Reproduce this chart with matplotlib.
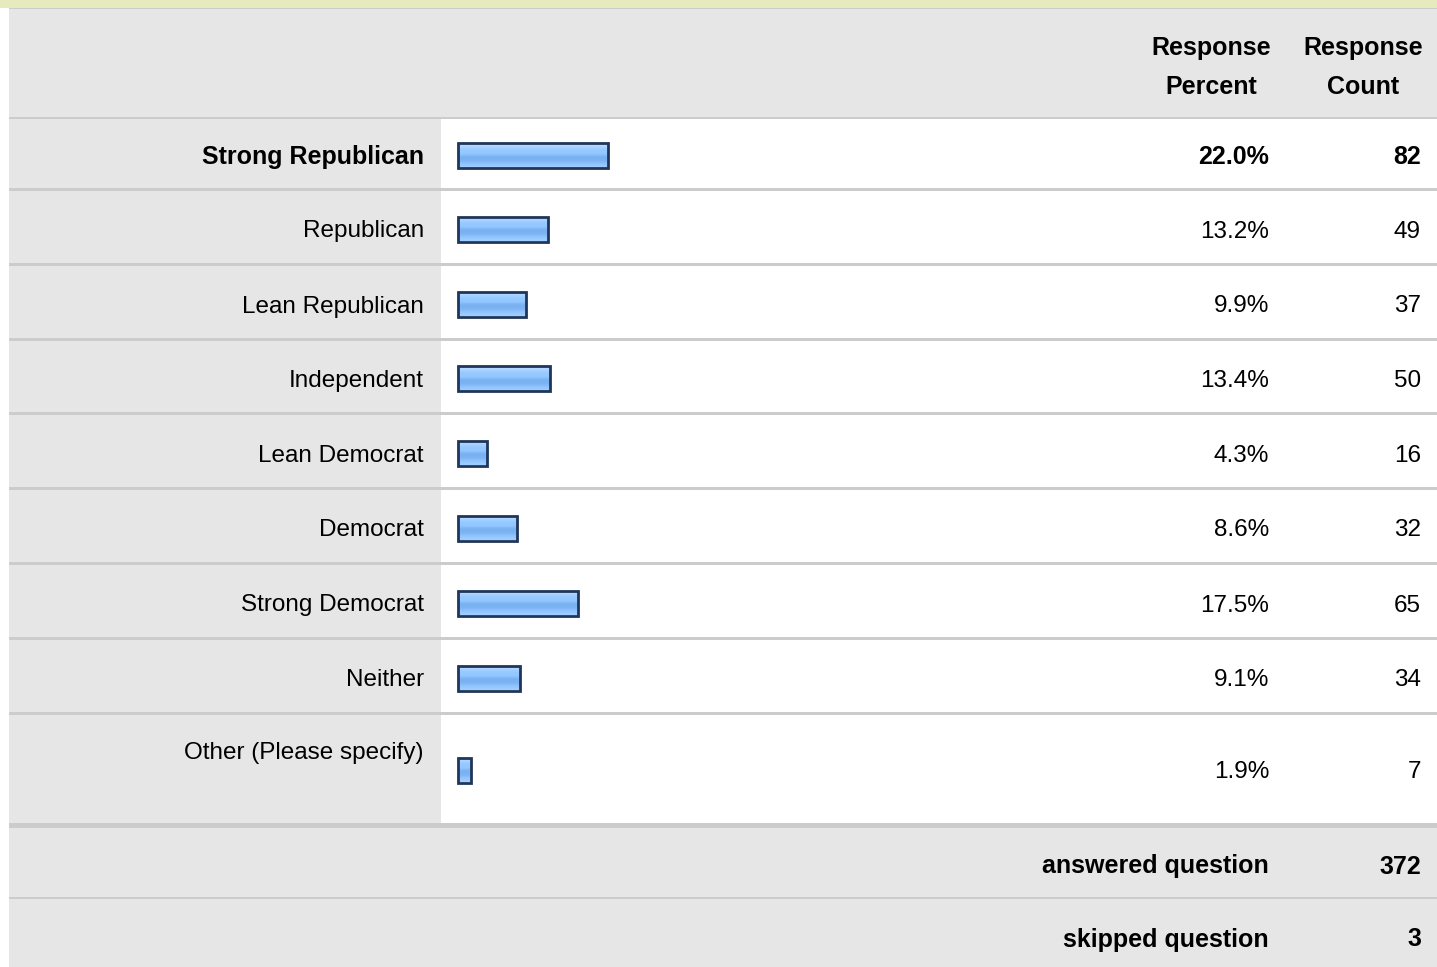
import numpy as np
import matplotlib
matplotlib.use("Agg")
import matplotlib.pyplot as plt
from matplotlib.patches import Rectangle
from matplotlib.colors import LinearSegmentedColormap

plt.rcParams['font.family'] = ['Liberation Sans', 'DejaVu Sans']

# data
answers = ["Strong Republican", "Republican", "Lean Republican", "Independent",
           "Lean Democrat", "Democrat", "Strong Democrat", "Neither",
           "Other (Please specify)"]
percent = [22.0, 13.2, 9.9, 13.4, 4.3, 8.6, 17.5, 9.1, 1.9]
counts = [82, 49, 37, 50, 16, 32, 65, 34, 7]
answered = 372
skipped = 3

# layout in pixels
W, H = 1437, 967
row_top = [119, 191, 266, 341, 415, 490, 565, 640, 715]
row_bot = [188, 263, 338, 412, 487, 562, 637, 712, 823]
bar_left = 458
px_per_pct = 6.84
FS = 17.5
FSB = 18
GRAY = "#e6e6e6"
LINE = "#cccccc"

fig = plt.figure(figsize=(W / 100, H / 100), dpi=100)
ax = fig.add_axes([0, 0, 1, 1])
ax.set_xlim(0, W)
ax.set_ylim(H, 0)
ax.axis("off")

def rect(x0, y0, x1, y1, color, z=0):
    ax.add_patch(Rectangle((x0, y0), x1 - x0, y1 - y0, facecolor=color,
                           edgecolor="none", zorder=z))

# backgrounds
rect(0, 0, W, 8, "#e5ebbf")
rect(9, 8, W, 9, LINE)
rect(9, 9, W, 117, GRAY)
rect(9, 117, W, 119, LINE)
for t, b in zip(row_top, row_bot):
    rect(9, t, 441, b, GRAY)
    rect(441, t, W, b, "white")
for b in row_bot[:-1]:
    rect(9, b, W, b + 3, LINE)
rect(9, 823, W, 828, LINE)
rect(9, 828, W, 897, GRAY)
rect(9, 897, W, 899, LINE)
rect(9, 899, W, H, GRAY)

# header
for x, word in [(1211, "Percent"), (1363, "Count")]:
    ax.text(x, 55.5, "Response", ha="center", va="baseline", fontsize=FSB,
            fontweight="bold")
    ax.text(x, 93.5, word, ha="center", va="baseline", fontsize=FSB,
            fontweight="bold")

# bars
mids = [(t + b) / 2 for t, b in zip(row_top, row_bot)]
centers = [m + 2 for m in mids]
centers[-1] = mids[-1] + 1
widths = [p * px_per_pct for p in percent]
bars = ax.barh(centers, widths, left=bar_left, height=25, facecolor="none",
               edgecolor="#1f3559", linewidth=2, zorder=3)

grad = LinearSegmentedColormap.from_list(
    "bar", ["#c9e4ff", "#a9d3ff", "#96c9ff", "#92c6ff", "#78b0f0",
            "#7db4f4", "#92c6ff", "#a0ceff"])
g = np.linspace(0, 1, 64).reshape(-1, 1)
for bar in bars:
    x0, y0 = bar.get_x(), bar.get_y()
    im = ax.imshow(g, cmap=grad, aspect="auto", interpolation="nearest",
                   extent=(x0, x0 + bar.get_width(), y0 + bar.get_height(), y0),
                   zorder=2)
    im.set_clip_path(bar)
ax.set_xlim(0, W)
ax.set_ylim(H, 0)

# row texts
for i, (lab, p, c) in enumerate(zip(answers, percent, counts)):
    bold = p == max(percent)
    wt = "bold" if bold else "normal"
    fs = FSB if bold else FS
    ly = centers[i] + 8.5
    if i == len(answers) - 1:
        ly = row_top[i] + 43.5
    ax.text(424, ly, lab, ha="right", va="baseline", fontsize=fs, fontweight=wt)
    ax.text(1269, centers[i] + 8.5, f"{p:.1f}%", ha="right", va="baseline",
            fontsize=fs, fontweight=wt)
    ax.text(1421, centers[i] + 8.5, str(c), ha="right", va="baseline",
            fontsize=fs, fontweight=wt)

# footer
ax.text(1269, 873.5, "answered question", ha="right", va="baseline",
        fontsize=FSB, fontweight="bold")
ax.text(1421, 873.5, str(answered), ha="right", va="baseline", fontsize=FSB,
        fontweight="bold")
ax.text(1269, 946.5, "skipped question", ha="right", va="baseline",
        fontsize=FSB, fontweight="bold")
ax.text(1421, 946.5, str(skipped), ha="right", va="baseline", fontsize=FSB,
        fontweight="bold")

fig.savefig("out.png", dpi=100)
